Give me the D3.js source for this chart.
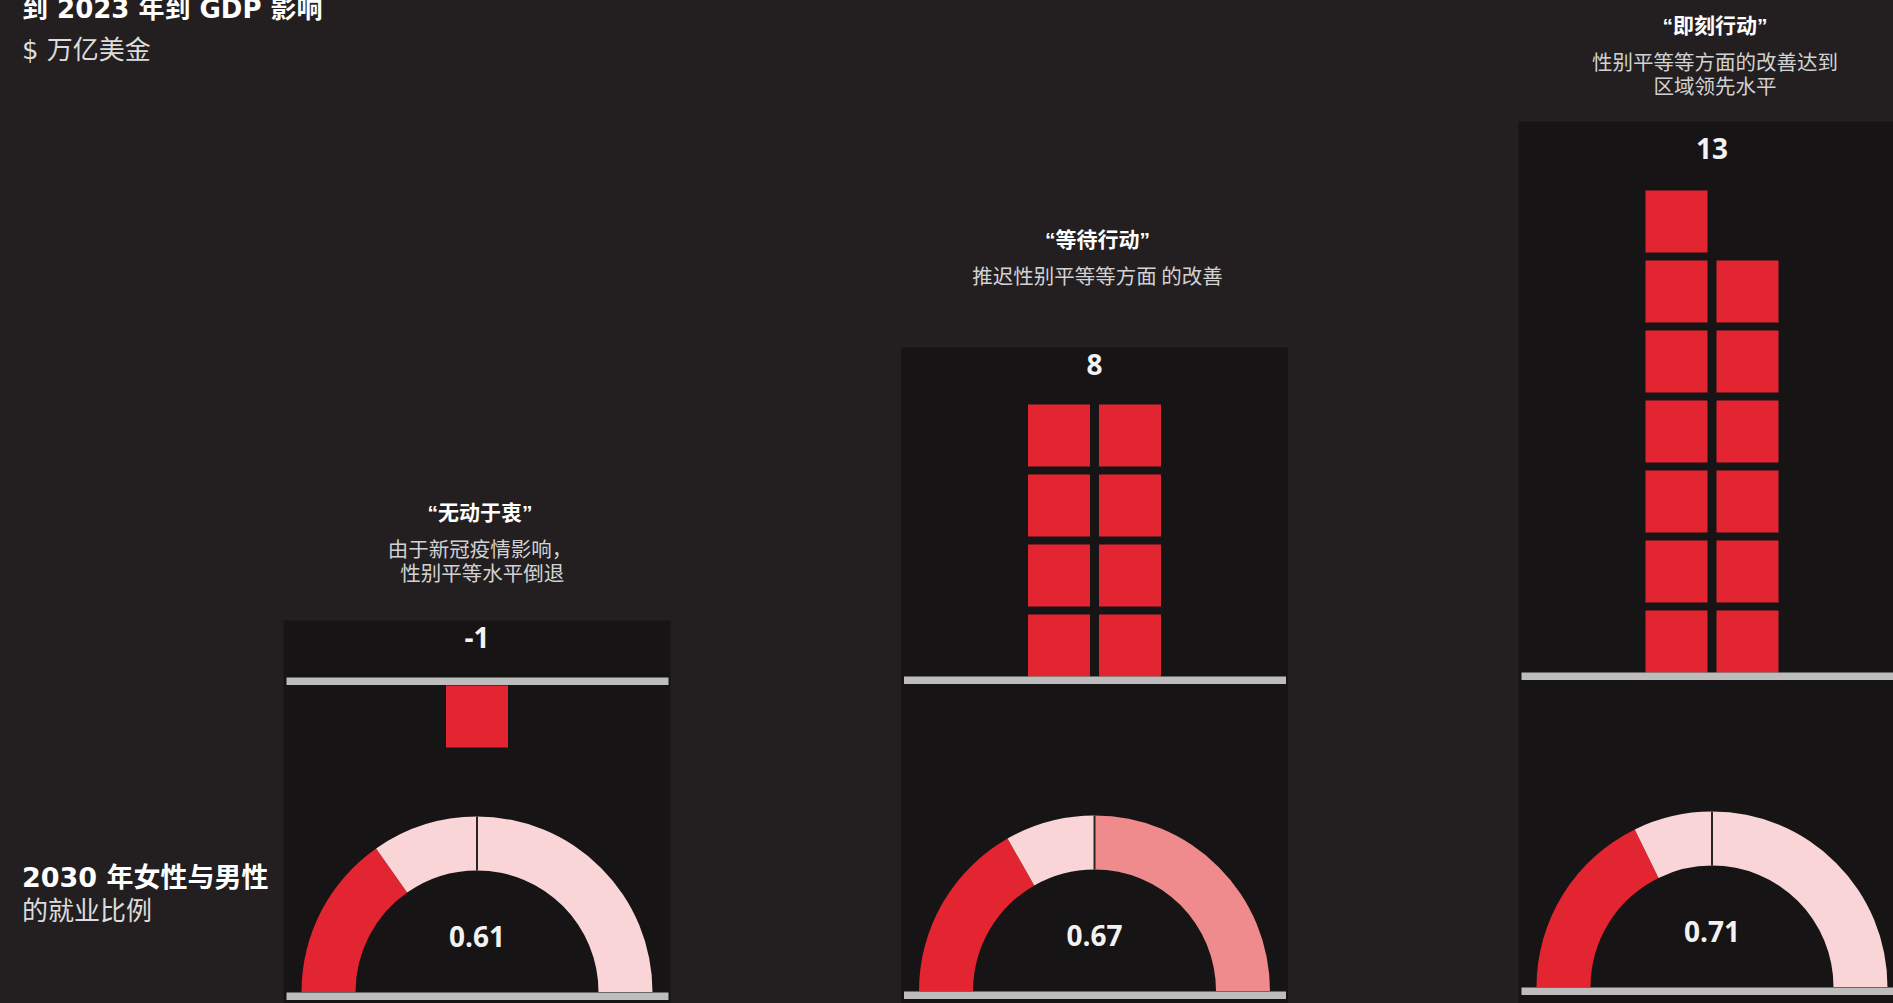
<!DOCTYPE html>
<html lang="zh-CN">
<head>
<meta charset="utf-8">
<title>性别平等情景：GDP 影响与就业比例</title>
<script src="https://cdn.jsdelivr.net/npm/d3@7"></script>
<style>
  html, body { margin: 0; padding: 0; background: #231f20; overflow: hidden; }
  svg { display: block; }
  text { white-space: pre; }
</style>
</head>
<body>
<svg id="chart" width="1893" height="1003"></svg>
<script>
// Scenario names, one panel each
const scenarios = ["无动于衷", "等待行动", "即刻行动"];
// Short explanation under each scenario name
const scenarioNotes = [
  ["由于新冠疫情影响，", " 性别平等水平倒退"],
  ["推迟性别平等等方面 的改善"],
  ["性别平等等方面的改善达到", "区域领先水平"]
];
// GDP impact, trillion USD (one block per trillion)
const gdpImpact = [-1, 8, 13];
// Female-to-male employment ratio in 2030
const employmentRatio = [0.61, 0.67, 0.71];
// Side headings
const gdpTitle = "到 2023 年到 GDP 影响";
const gdpUnit = "$ 万亿美金";
const ratioTitle = "2030 年女性与男性";
const ratioSubtitle = "的就业比例";

// ---- layout & style ----
const W = 1893, H = 1003;
const colors = {
  panel: "#161414",
  red: "#e32431",
  pink: "#f9d5d7",
  salmon: "#ef8a8d",
  rule: "#bdbdbd",
  divider: "#2a2626",
  value: "#f2f2f2",
  note: "#d2d2d2"
};
const baseY = [677.5, 676.5, 672.5];          // block baseline of each panel
const headroom = [57, 49, 61];                // space above the top block row
const rightHalfFill = [colors.pink, colors.salmon, colors.pink];
const ROW = 70, BLOCK = 62, GAP = ROW - BLOCK;
const panelW = 387;
const R_OUT = 175.5, R_IN = 121.5;

const headFont = '"DejaVu Sans", "Noto Sans CJK SC", sans-serif';
const cjkFont = '"Noto Sans CJK SC", sans-serif';
const quoteFont = '"Liberation Sans", "Noto Sans CJK SC", sans-serif';
const numFont = '"Open Sans", "Liberation Sans", sans-serif';

const svg = d3.select("#chart");

// panel centres
const x = d3.scalePoint().domain(scenarios).range([477, 1712]);

// angle of the gauge: 0 at the left end, parity (1.0) at the top
const angle = d3.scaleLinear().domain([0, 1]).range([-Math.PI / 2, 0]);
const arc = d3.arc().innerRadius(R_IN).outerRadius(R_OUT);

scenarios.forEach((name, i) => {
  const cx = x(name);
  const base = baseY[i];
  const v = gdpImpact[i];
  const n = Math.abs(v);
  const rows = v > 0 ? Math.ceil(n / 2) : 0;

  // vertical scale in block rows, positive upward from the baseline
  const y = d3.scaleLinear().domain([0, 1]).range([base, base - ROW]);
  const col = d3.scaleBand().domain([0, 1])
    .range([cx - 66.5, cx + 66.5]).paddingInner(0.127);

  const top = y(rows) - headroom[i];
  const g = svg.append("g").attr("class", "panel");

  // dark panel
  g.append("rect")
    .attr("x", cx - panelW / 2).attr("y", top)
    .attr("width", panelW).attr("height", H - top + 10)
    .attr("fill", colors.panel);

  // scenario name and note (note lines as tspans of one text)
  const titleY = i === 2 ? top - 96 : top - 108;
  svg.append("text")
    .attr("x", cx + 3).attr("y", titleY)
    .attr("text-anchor", "middle").attr("dominant-baseline", "central")
    .attr("font-family", quoteFont).attr("font-weight", 700)
    .attr("font-size", 21).attr("fill", "#ffffff")
    .text("“" + name + "”");
  const note = svg.append("text")
    .attr("text-anchor", "middle").attr("dominant-baseline", "central")
    .attr("font-family", cjkFont).attr("font-size", 20.5)
    .attr("fill", colors.note);
  note.selectAll("tspan").data(scenarioNotes[i]).enter().append("tspan")
    .attr("x", cx + 3).attr("y", (d, j) => titleY + 35 + j * 24.5)
    .text(d => d);

  // GDP value label
  g.append("text")
    .attr("x", cx).attr("y", top + (i === 2 ? 37 : 27))
    .attr("text-anchor", "middle")
    .attr("font-family", numFont).attr("font-weight", 700)
    .attr("font-size", 28).attr("fill", colors.value)
    .text(String(v));

  // blocks, two per row
  const blocks = d3.range(n).map(k => ({ row: Math.floor(k / 2), col: k % 2 }));
  g.selectAll("rect.block").data(blocks).enter().append("rect")
    .attr("class", "block")
    .attr("x", d => n === 1 ? cx - col.bandwidth() / 2 : col(d.col))
    .attr("y", d => (v > 0 ? y(d.row + 1) : y(-d.row)) + GAP)
    .attr("width", col.bandwidth())
    .attr("height", ROW - GAP)
    .attr("fill", colors.red);

  // baseline rule
  g.append("rect")
    .attr("x", cx - panelW / 2 + 3).attr("y", y(0))
    .attr("width", panelW - 5).attr("height", 7.5)
    .attr("fill", colors.rule);

  // gauge
  const cy = base + 314.5;
  const r = employmentRatio[i];
  const segs = [
    { s: angle(0), e: angle(r), fill: colors.red },
    { s: angle(r), e: angle(1), fill: colors.pink },
    { s: angle(1), e: Math.PI / 2, fill: rightHalfFill[i] }
  ];
  const gg = g.append("g").attr("transform", `translate(${cx},${cy})`);
  gg.selectAll("path").data(segs).enter().append("path")
    .attr("d", d => arc({ startAngle: d.s, endAngle: d.e }))
    .attr("fill", d => d.fill);
  gg.append("line")
    .attr("x1", 0).attr("x2", 0)
    .attr("y1", -R_OUT).attr("y2", -R_IN)
    .attr("stroke", colors.divider).attr("stroke-width", 2);
  gg.append("text")
    .attr("x", 0).attr("y", -45)
    .attr("text-anchor", "middle")
    .attr("font-family", numFont).attr("font-weight", 700)
    .attr("font-size", 28).attr("fill", colors.value)
    .text(d3.format(".2f")(r));

  g.append("rect")
    .attr("x", cx - panelW / 2 + 3).attr("y", cy + 0.5)
    .attr("width", panelW - 5).attr("height", 7.5)
    .attr("fill", colors.rule);
});

// side headings
svg.append("text")
  .attr("x", 22).attr("y", 17.5)
  .attr("font-family", headFont).attr("font-weight", 700)
  .attr("font-size", 26).attr("fill", "#ffffff")
  .text(gdpTitle);
svg.append("text")
  .attr("x", 22).attr("y", 59)
  .attr("font-family", headFont)
  .attr("font-size", 26).attr("fill", "#dcdcdc")
  .text(gdpUnit);
svg.append("text")
  .attr("x", 22).attr("y", 886.5)
  .attr("font-family", headFont).attr("font-weight", 700)
  .attr("font-size", 27).attr("fill", "#ffffff")
  .text(ratioTitle);
svg.append("text")
  .attr("x", 22).attr("y", 919.5)
  .attr("font-family", headFont)
  .attr("font-size", 26).attr("fill", "#dcdcdc")
  .text(ratioSubtitle);
</script>
</body>
</html>
